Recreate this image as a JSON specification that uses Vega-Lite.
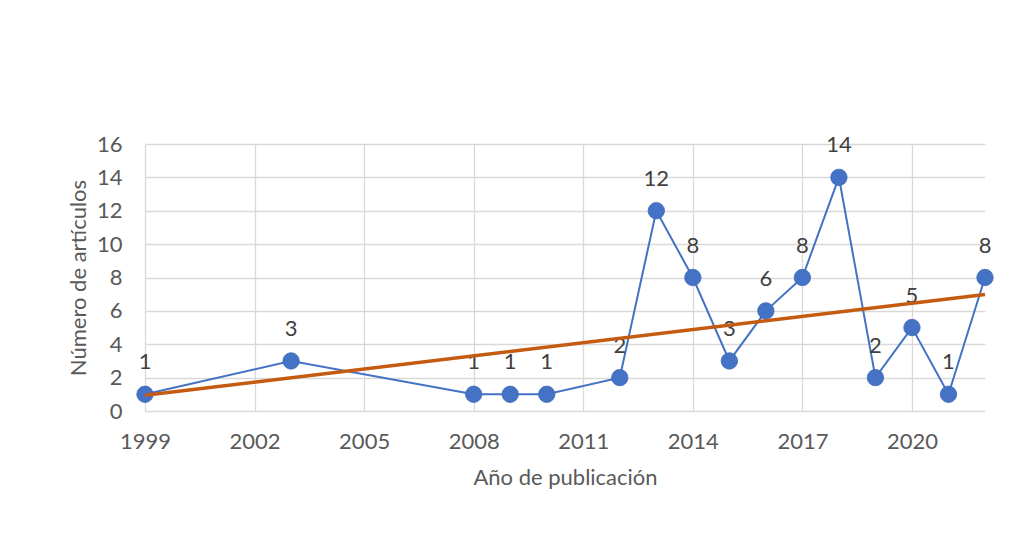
{
  "$schema": "https://vega.github.io/schema/vega-lite/v6.json",
  "width": 840,
  "height": 267,
  "autosize": {"type": "none"},
  "padding": {"left": 145, "top": 144, "right": 46, "bottom": 139},
  "background": "white",
  "config": {
    "view": {"stroke": null},
    "font": "Lato",
    "axis": {
      "labelFont": "Lato",
      "titleFont": "Lato",
      "labelFontSize": 22,
      "titleFontSize": 22,
      "labelColor": "#595959",
      "titleColor": "#595959",
      "titleFontWeight": "normal",
      "gridColor": "#d9d9d9",
      "gridWidth": 1.3,
      "ticks": false,
      "domain": false,
      "labelFlush": false
    }
  },
  "data": {
    "values": [
      {"anio": 1999, "articulos": 1},
      {"anio": 2003, "articulos": 3},
      {"anio": 2008, "articulos": 1},
      {"anio": 2009, "articulos": 1},
      {"anio": 2010, "articulos": 1},
      {"anio": 2012, "articulos": 2},
      {"anio": 2013, "articulos": 12},
      {"anio": 2014, "articulos": 8},
      {"anio": 2015, "articulos": 3},
      {"anio": 2016, "articulos": 6},
      {"anio": 2017, "articulos": 8},
      {"anio": 2018, "articulos": 14},
      {"anio": 2019, "articulos": 2},
      {"anio": 2020, "articulos": 5},
      {"anio": 2021, "articulos": 1},
      {"anio": 2022, "articulos": 8}
    ]
  },
  "encoding": {
    "x": {
      "field": "anio",
      "type": "quantitative",
      "scale": {"domain": [1999, 2022], "nice": false, "zero": false},
      "axis": {
        "values": [1999, 2002, 2005, 2008, 2011, 2014, 2017, 2020],
        "format": "d",
        "labelPadding": 20,
        "title": "Año de publicación",
        "titlePadding": 15
      }
    },
    "y": {
      "field": "articulos",
      "type": "quantitative",
      "scale": {"domain": [0, 16], "nice": false},
      "axis": {
        "values": [0, 2, 4, 6, 8, 10, 12, 14, 16],
        "labelPadding": 23,
        "title": "Número de artículos",
        "titlePadding": 6
      }
    }
  },
  "layer": [
    {
      "mark": {"type": "line", "color": "#4472C4", "strokeWidth": 2}
    },
    {
      "mark": {"type": "point", "filled": true, "shape": "circle", "size": 270, "color": "#4472C4", "opacity": 1, "stroke": "#3F6AB8", "strokeWidth": 0.8}
    },
    {
      "mark": {"type": "text", "dy": -32, "fontSize": 22, "font": "Lato", "color": "#404040"},
      "encoding": {"text": {"field": "articulos", "type": "quantitative"}}
    },
    {
      "transform": [{"regression": "articulos", "on": "anio", "extent": [1999, 2022]}],
      "mark": {"type": "line", "color": "#C55A11", "strokeWidth": 3.5}
    }
  ]
}
